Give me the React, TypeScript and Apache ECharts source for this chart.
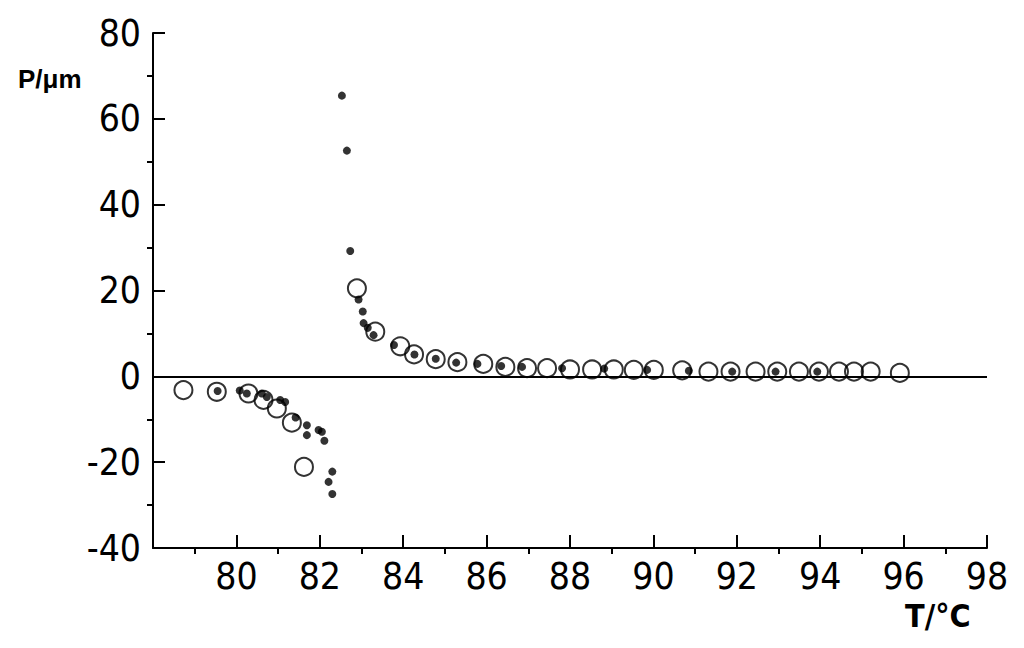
import React, { useEffect, useRef } from "react";
import * as echarts from "echarts";

// Open circles: [T (°C), P (µm)]
const openCircles: [number, number][] = [
  [78.73, -3.2], [79.53, -3.6], [80.29, -4.0], [80.65, -5.5], [80.97, -7.5],
  [81.33, -10.8], [81.62, -21.1], [82.89, 20.5], [83.33, 10.4], [83.93, 7.0],
  [84.26, 5.1], [84.78, 4.0], [85.3, 3.3], [85.92, 2.9], [86.45, 2.2],
  [86.97, 1.9], [87.45, 1.9], [88.0, 1.6], [88.53, 1.6], [89.05, 1.6],
  [89.53, 1.5], [90.01, 1.5], [90.69, 1.4], [91.32, 1.1], [91.85, 1.1],
  [92.45, 1.1], [92.97, 1.1], [93.49, 1.1], [93.97, 1.1], [94.45, 1.1],
  [94.81, 1.1], [95.21, 1.1], [95.91, 0.8],
];

// Filled dots: [T (°C), P (µm)]
const filledDots: [number, number][] = [
  [79.55, -3.4], [80.08, -3.3], [80.25, -4.0], [80.61, -4.0], [80.73, -4.8],
  [81.05, -5.5], [81.17, -6.0], [81.42, -9.6], [81.69, -11.4], [81.69, -13.7],
  [81.97, -12.5], [82.05, -12.9], [82.11, -15.0], [82.3, -22.2], [82.21, -24.6],
  [82.3, -27.4], [82.53, 65.4], [82.65, 52.6], [82.73, 29.2], [82.93, 17.9],
  [83.03, 15.1], [83.05, 12.4], [83.15, 11.3], [83.29, 9.6], [83.78, 7.3],
  [84.27, 5.1], [84.78, 4.1], [85.27, 3.2], [85.78, 2.9], [86.35, 2.4],
  [86.85, 2.2], [87.81, 1.9], [88.82, 1.8], [89.85, 1.5], [90.85, 1.3],
  [91.89, 1.1], [92.93, 1.1], [93.93, 1.1],
];

const xMin = 78;
const xMax = 98;
const xStep = 2;
const yMin = -40;
const yMax = 80;
const yStep = 20;
const yLabel = "P/μm";
const xLabel = "T/°C";

const INK = "#000000";
const NARROW = '"Liberation Sans Narrow", "DejaVu Sans Condensed", "Arial Narrow", sans-serif';

export default function App() {
  const ref = useRef<HTMLDivElement>(null);
  useEffect(() => {
    if (!ref.current) return;
    const chart = echarts.init(ref.current, undefined, { renderer: "svg" });
    chart.setOption({
      animation: false,
      backgroundColor: "#ffffff",
      grid: { left: 153, right: 37, top: 33, bottom: 100, containLabel: false },
      xAxis: {
        type: "value",
        min: xMin,
        max: xMax,
        interval: xStep,
        splitLine: { show: false },
        axisLine: { show: true, onZero: false, lineStyle: { color: INK, width: 2 } },
        axisTick: { show: true, inside: true, length: 13, lineStyle: { color: INK, width: 2 } },
        minorTick: { show: true, splitNumber: 2, length: -6, lineStyle: { color: INK, width: 2 } },
        axisLabel: {
          color: INK,
          fontFamily: NARROW,
          fontSize: 37,
          margin: 10,
          formatter: (v: number) => (v === xMin ? "" : String(v)),
        },
      },
      yAxis: {
        type: "value",
        min: yMin,
        max: yMax,
        interval: yStep,
        splitLine: { show: false },
        axisLine: { show: true, onZero: false, lineStyle: { color: INK, width: 2 } },
        axisTick: { show: true, inside: true, length: 12, lineStyle: { color: INK, width: 2 } },
        minorTick: { show: true, splitNumber: 2, length: -6, lineStyle: { color: INK, width: 2 } },
        axisLabel: {
          color: INK,
          fontFamily: NARROW,
          fontSize: 37,
          margin: 12,
        },
      },
      graphic: [
        {
          type: "text",
          left: 18,
          top: 66,
          style: {
            text: yLabel,
            fill: INK,
            font: 'bold 26px "Liberation Sans", Arial, sans-serif',
          },
        },
        {
          type: "text",
          left: 905,
          top: 600,
          style: {
            text: xLabel,
            fill: INK,
            font: 'bold 32px ' + NARROW,
          },
        },
      ],
      series: [
        {
          type: "scatter",
          data: openCircles,
          symbol: "circle",
          symbolSize: 18,
          itemStyle: { color: "rgba(255,255,255,0)", borderColor: INK, borderWidth: 2 },
          markLine: {
            silent: true,
            symbol: "none",
            label: { show: false },
            lineStyle: { color: INK, width: 2, type: "solid" },
            data: [{ yAxis: 0 }],
          },
          z: 2,
        },
        {
          type: "scatter",
          data: filledDots,
          symbol: "circle",
          symbolSize: 8,
          itemStyle: { color: INK },
          z: 3,
        },
      ],
    });
    return () => chart.dispose();
  }, []);
  return (
    <div
      ref={ref}
      style={{ position: "fixed", left: 0, top: 0, width: 1024, height: 648, background: "#fff" }}
    />
  );
}
